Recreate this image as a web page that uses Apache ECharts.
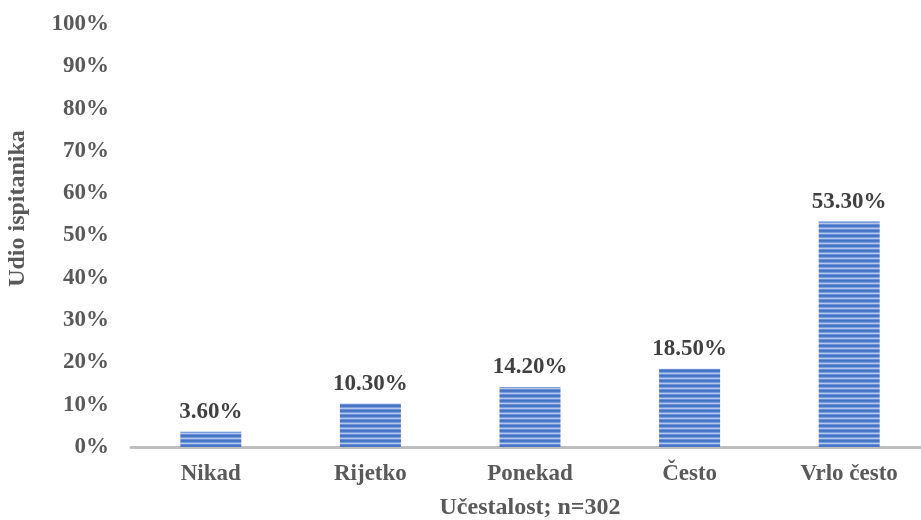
<!DOCTYPE html>
<html><head><meta charset="utf-8">
<script src="https://cdn.jsdelivr.net/npm/echarts@6/dist/echarts.min.js"></script>
<style>html,body{margin:0;padding:0;background:#fff}#c{width:921px;height:520px}</style>
</head><body><div id="c"></div>
<script>
const categories = ['Nikad', 'Rijetko', 'Ponekad', 'Često', 'Vrlo često'];
const values = [3.6, 10.3, 14.2, 18.5, 53.3];
const yTicks = [0, 10, 20, 30, 40, 50, 60, 70, 80, 90, 100];

const pc = document.createElement('canvas');
pc.width = 4; pc.height = 5;
const g = pc.getContext('2d');
const rows = ['#4472C4', '#4A78C8', '#7B9DDB', '#B4C8EE', '#6A8FD6'];
rows.forEach((c, i) => { g.fillStyle = c; g.fillRect(0, i, 4, 1); });

const font = '"Liberation Serif", "Times New Roman", serif';
const chart = echarts.init(document.getElementById('c'));
chart.setOption({
  animation: false,
  grid: { left: 131, width: 798, top: 24, bottom: 73, containLabel: false, outerBoundsMode: 'none' },
  xAxis: {
    type: 'category', data: categories,
    axisLine: { lineStyle: { color: '#BFBFBF', width: 3 } },
    axisTick: { show: false },
    axisLabel: { color: '#595959', fontFamily: font, fontWeight: 'bold', fontSize: 23, margin: 16 },
    name: 'Učestalost; n=302', nameLocation: 'middle', nameGap: 49,
    nameTextStyle: { color: '#595959', fontFamily: font, fontWeight: 'bold', fontSize: 24 }
  },
  yAxis: {
    type: 'value', min: 0, max: 100, interval: 10,
    splitLine: { show: false },
    axisLine: { show: false }, axisTick: { show: false },
    axisLabel: { color: '#595959', fontFamily: font, fontWeight: 'bold', fontSize: 23, margin: 22,
      formatter: v => yTicks.includes(v) ? v + '%' : '' },
    name: 'Udio ispitanika', nameLocation: 'middle', nameGap: 101, nameRotate: 90,
    nameTextStyle: { color: '#595959', fontFamily: font, fontWeight: 'bold', fontSize: 24, padding: [0, 0, 0, 54] }
  },
  series: [{
    type: 'bar', data: values, barWidth: 61,
    itemStyle: { color: { image: pc, repeat: 'repeat' } },
    label: { show: true, position: 'top', distance: 8, color: '#404040', fontFamily: font, fontWeight: 'bold', fontSize: 23,
      formatter: p => p.value.toFixed(2) + '%' }
  }]
});
</script></body></html>
